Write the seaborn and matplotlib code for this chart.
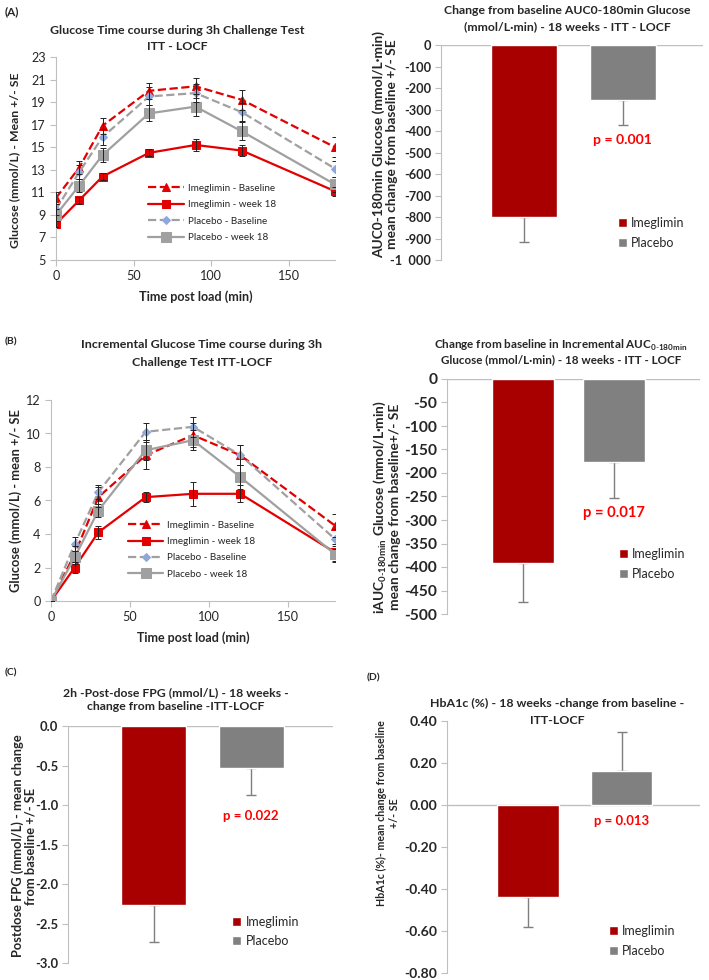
import numpy as np
import pandas as pd
import matplotlib
matplotlib.use("Agg")
import matplotlib.pyplot as plt
import seaborn as sns
from matplotlib.patches import Patch

# ---- data ----
times = [0, 15, 30, 60, 90, 120, 180]

# (A) glucose time course (mmol/L)
ime_base = [10.5, 13.2, 16.9, 20.0, 20.4, 19.2, 15.0]
ime_base_se = [0.5, 0.6, 0.7, 0.7, 0.7, 0.9, 0.9]
ime_w18 = [8.2, 10.3, 12.4, 14.5, 15.2, 14.7, 11.1]
ime_w18_se = [0.3, 0.3, 0.3, 0.3, 0.5, 0.5, 0.4]
pla_base = [9.5, 12.8, 15.9, 19.5, 19.8, 18.1, 13.1]
pla_base_se = [0.5, 0.6, 0.7, 0.8, 0.8, 0.8, 0.7]
pla_w18 = [9.0, 11.6, 14.3, 18.0, 18.6, 16.4, 11.7]
pla_w18_se = [0.5, 0.6, 0.6, 0.7, 0.8, 0.8, 0.7]

# (B) incremental glucose time course (mmol/L)
inc_ime_base = [0, 2.8, 6.2, 8.7, 9.9, 8.7, 4.5]
inc_ime_base_se = [0, 0.5, 0.6, 0.8, 0.7, 0.6, 0.7]
inc_ime_w18 = [0, 2.0, 4.1, 6.2, 6.4, 6.4, 2.9]
inc_ime_w18_se = [0, 0.3, 0.4, 0.3, 0.7, 0.5, 0.5]
inc_pla_base = [0, 3.4, 6.5, 10.1, 10.4, 8.7, 3.7]
inc_pla_base_se = [0, 0.4, 0.4, 0.5, 0.6, 0.6, 0.6]
inc_pla_w18 = [0, 2.6, 5.4, 9.0, 9.6, 7.4, 2.8]
inc_pla_w18_se = [0, 0.4, 0.4, 0.6, 0.6, 0.7, 0.5]

# bar charts: change from baseline
groups = ["Imeglimin", "Placebo"]
auc_change = [-800, -255]
auc_se = [115, 115]
iauc_change = [-392, -177]
iauc_se = [83, 77]
fpg_change = [-2.26, -0.53]
fpg_se = [0.48, 0.34]
hba1c_change = [-0.44, 0.16]
hba1c_se = [0.14, 0.19]

RED_LINE = "#E30000"
BAR_RED = "#A80000"
BAR_GRAY = "#808080"
LINE_GRAY = "#A0A0A0"
DIAMOND = "#8FA8D8"
SPINE = "#BFBFBF"

sns.set_style("white")
plt.rcParams["font.family"] = ["Lato", "DejaVu Sans"]
plt.rcParams["mathtext.fontset"] = "custom"
plt.rcParams["mathtext.rm"] = "Lato"
plt.rcParams["mathtext.bf"] = "Lato:bold"

W, H = 709, 980
fig = plt.figure(figsize=(W / 100, H / 100), dpi=100)
renderer = fig.canvas.get_renderer()


def fit(s, target, weight="bold"):
    # font size that makes the string s about `target` pixels wide
    t = fig.text(0, 0, s, fontsize=10, fontweight=weight)
    w = t.get_window_extent(renderer).width
    t.remove()
    return 10 * target / w


def add_ax(left, top, right, bottom):
    return fig.add_axes([left / W, 1 - bottom / H, (right - left) / W, (bottom - top) / H])


def ftext(x, y, s, **kw):
    fig.text(x / W, 1 - y / H, s, **kw)


def title2(x, y1, y2, line1, line2, width):
    # two-line bold title, one text per line
    size = fit(line1, width)
    ftext(x, y1, line1, fontsize=size, fontweight="bold", ha="center", va="center")
    ftext(x, y2, line2, fontsize=size, fontweight="bold", ha="center", va="center")


LINE_TICK = fit("150", 22, "normal")
LINE_LEG = fit("Imeglimin - Baseline", 87, "normal")
BAR_LEG = fit("Imeglimin", 53, "normal")


def line_panel(ax, series, ylim, yticks, leg_anchor):
    for vals, se, color, ls, mk, ms, mfc, lab in series:
        sns.lineplot(x=times, y=vals, ax=ax, color=color, linestyle=ls, linewidth=1.6,
                     marker=mk, markersize=ms, markerfacecolor=mfc, markeredgecolor=mfc,
                     label=lab, errorbar=None)
        ax.errorbar(times, vals, yerr=se, fmt="none", ecolor="#222222",
                    elinewidth=0.7, capsize=2, capthick=0.7, zorder=3)
    ax.set_xlim(0, 180)
    ax.set_ylim(*ylim)
    ax.set_xticks([0, 50, 100, 150])
    ax.set_yticks(yticks)
    ax.tick_params(axis="both", direction="out", length=4, color=SPINE, labelsize=LINE_TICK,
                   left=True, bottom=True)
    for s in ["top", "right"]:
        ax.spines[s].set_visible(False)
    for s in ["left", "bottom"]:
        ax.spines[s].set_color(SPINE)
    ax.set_xlabel("")
    ax.set_ylabel("")
    ax.legend(loc="upper left", bbox_to_anchor=leg_anchor, frameon=False, fontsize=LINE_LEG,
              handlelength=3.6, labelspacing=0.75, borderpad=0, borderaxespad=0,
              handletextpad=0.4)


def bar_panel(ax, vals, se, ylim, yticks, fmt, xlim, width, ptxt, pxy, pwidth,
              leg_anchor, tick_sample):
    sns.barplot(x=groups, y=vals, hue=groups, palette=[BAR_RED, BAR_GRAY], width=width,
                saturation=1, errorbar=None, legend=False, ax=ax, zorder=2)
    lower = [s if v < 0 else 0 for v, s in zip(vals, se)]
    upper = [s if v > 0 else 0 for v, s in zip(vals, se)]
    ax.errorbar([0, 1], vals, yerr=[lower, upper], fmt="none", ecolor="#7F7F7F",
                elinewidth=1, capsize=3.5, capthick=1, zorder=1)
    ax.axhline(0, color=SPINE, lw=1, zorder=0)
    ax.set_xlim(*xlim)
    ax.set_ylim(*ylim)
    ax.set_yticks(yticks)
    ax.set_yticklabels([fmt(t) for t in yticks], fontweight="bold")
    ax.set_xticks([])
    ax.tick_params(axis="y", direction="out", length=4, color=SPINE,
                   labelsize=fit(*tick_sample), left=True, pad=3)
    for s in ["top", "right", "bottom"]:
        ax.spines[s].set_visible(False)
    ax.spines["left"].set_color(SPINE)
    ax.set_xlabel("")
    ax.set_ylabel("")
    ax.text(pxy[0], pxy[1], ptxt, color="#FF0000", fontsize=fit(ptxt, pwidth),
            fontweight="bold", ha="center", va="center")
    handles = [Patch(facecolor=BAR_RED), Patch(facecolor=BAR_GRAY)]
    ax.legend(handles, groups, loc="upper left", bbox_to_anchor=leg_anchor, frameon=False,
              fontsize=BAR_LEG, handlelength=0.7, handleheight=0.7, labelspacing=0.6,
              borderpad=0, borderaxespad=0, handletextpad=0.35)


# ---- (A) left: glucose time course ----
axA = add_ax(56, 57, 335, 260)
line_panel(axA, [
    (ime_base, ime_base_se, RED_LINE, "--", "^", 6, RED_LINE, "Imeglimin - Baseline"),
    (ime_w18, ime_w18_se, RED_LINE, "-", "s", 6, RED_LINE, "Imeglimin - week 18"),
    (pla_base, pla_base_se, LINE_GRAY, "--", "D", 4, DIAMOND, "Placebo - Baseline"),
    (pla_w18, pla_w18_se, LINE_GRAY, "-", "s", 6.5, LINE_GRAY, "Placebo - week 18"),
], (5, 23), list(range(5, 24, 2)), (0.33, 0.375))
ftext(5, 12, "(A)", fontsize=8.5, fontweight="bold", va="center")
title2(177, 30, 47, "Glucose Time course during 3h Challenge Test", "ITT - LOCF", 255)
ftext(15, 160, "Glucose (mmol/L) - Mean +/- SE",
      fontsize=fit("Glucose (mmol/L) - Mean +/- SE", 176), fontweight="bold",
      rotation=90, ha="center", va="center")
ftext(196, 297, "Time post load (min)", fontsize=fit("Time post load (min)", 114),
      fontweight="bold", ha="center", va="center")

# ---- (A) right: AUC change ----
axA2 = add_ax(441, 45, 703, 260)
bar_panel(axA2, auc_change, auc_se, (-1000, 0), list(range(0, -1001, -100)),
          lambda t: "-1  000" if t == -1000 else f"{t:d}",
          (-0.84, 1.81), 0.67, "p = 0.001", (1.0, -440), 59, (0.675, 0.20), ("-900", 27))
title2(567, 10, 27, "Change from baseline AUC0-180min Glucose",
       "(mmol/L·min) - 18 weeks - ITT - LOCF", 247)
ftext(385, 144, "AUC0-180min Glucose (mmol/L·min)\nmean change from baseline +/- SE",
      fontsize=fit("AUC0-180min Glucose (mmol/L·min)", 227), fontweight="bold",
      rotation=90, ha="center", va="center", linespacing=1.1)

# ---- (B) left: incremental glucose time course ----
axB = add_ax(51, 400, 335, 601)
line_panel(axB, [
    (inc_ime_base, inc_ime_base_se, RED_LINE, "--", "^", 6, RED_LINE, "Imeglimin - Baseline"),
    (inc_ime_w18, inc_ime_w18_se, RED_LINE, "-", "s", 6, RED_LINE, "Imeglimin - week 18"),
    (inc_pla_base, inc_pla_base_se, LINE_GRAY, "--", "D", 4, DIAMOND, "Placebo - Baseline"),
    (inc_pla_w18, inc_pla_w18_se, LINE_GRAY, "-", "s", 6.5, LINE_GRAY, "Placebo - week 18"),
], (0, 12), list(range(0, 13, 2)), (0.27, 0.40))
ftext(5, 342, "(B)", fontsize=7.5, fontweight="bold", va="center")
title2(202, 345, 363, "Incremental Glucose Time course during 3h",
       "Challenge Test ITT-LOCF", 242)
ftext(16, 501, "Glucose (mmol/L) - mean +/- SE",
      fontsize=fit("Glucose (mmol/L) - mean +/- SE", 183), fontweight="bold",
      rotation=90, ha="center", va="center")
ftext(193, 638, "Time post load (min)", fontsize=fit("Time post load (min)", 113),
      fontweight="bold", ha="center", va="center")

# ---- (B) right: iAUC change ----
axB2 = add_ax(447, 379, 700, 614)
bar_panel(axB2, iauc_change, iauc_se, (-500, 0), list(range(0, -501, -50)),
          lambda t: f"{t:d}", (-0.84, 1.95), 0.68, "p = 0.017", (1.0, -285), 62,
          (0.68, 0.28), ("-450", 33))
title2(561, 345, 360, "Change from baseline in Incremental AUC$_{\\mathbf{0\\text{-}180min}}$",
       "Glucose (mmol/L·min) - 18 weeks - ITT - LOCF", 253)
ftext(386, 507, "iAUC$_{\\mathbf{0\\text{-}180min}}$ Glucose (mmol/L·min)\n"
      "mean change from baseline+/- SE",
      fontsize=fit("iAUC$_{\\mathbf{0\\text{-}180min}}$ Glucose (mmol/L·min)", 213),
      fontweight="bold", rotation=90, ha="center", va="center", linespacing=1.1)

# ---- (C) FPG ----
axC = add_ax(68, 726, 333, 963)
bar_panel(axC, fpg_change, fpg_se, (-3.0, 0.0), list(np.arange(0, -3.01, -0.5)),
          lambda t: f"{t:.1f}".replace("-0.0", "0.0"), (-0.88, 1.84), 0.67,
          "p = 0.022", (1.0, -1.14), 56, (0.62, 0.20), ("-2.5", 23))
ftext(5, 673, "(C)", fontsize=7.5, fontweight="bold", va="center")
title2(176, 693, 707, "2h -Post-dose FPG (mmol/L) - 18 weeks -",
       "change from baseline -ITT-LOCF", 225)
ftext(24, 846, "Postdose FPG (mmol/L) - mean change\nfrom baseline +/- SE",
      fontsize=fit("Postdose FPG (mmol/L) - mean change", 223), fontweight="bold",
      rotation=90, ha="center", va="center", linespacing=1.1)

# ---- (D) HbA1c ----
axD = add_ax(447, 721, 700, 973)
bar_panel(axD, hba1c_change, hba1c_se, (-0.8, 0.4), list(np.arange(0.4, -0.81, -0.2)),
          lambda t: f"{t:.2f}".replace("-0.00", "0.00"), (-0.87, 1.84), 0.66,
          "p = 0.013", (1.0, -0.076), 55, (0.64, 0.19), ("-0.60", 33))
ftext(367, 678, "(D)", fontsize=7.5, fontweight="bold", va="center")
title2(557, 703, 720, "HbA1c (%) - 18 weeks -change from baseline -", "ITT-LOCF", 255)
ftext(388, 813, "HbA1c (%)- mean change from baseline\n+/- SE",
      fontsize=fit("HbA1c (%)- mean change from baseline", 187), fontweight="bold",
      rotation=90, ha="center", va="center", linespacing=1.15)

fig.savefig("out.png", dpi=100, facecolor="white")
